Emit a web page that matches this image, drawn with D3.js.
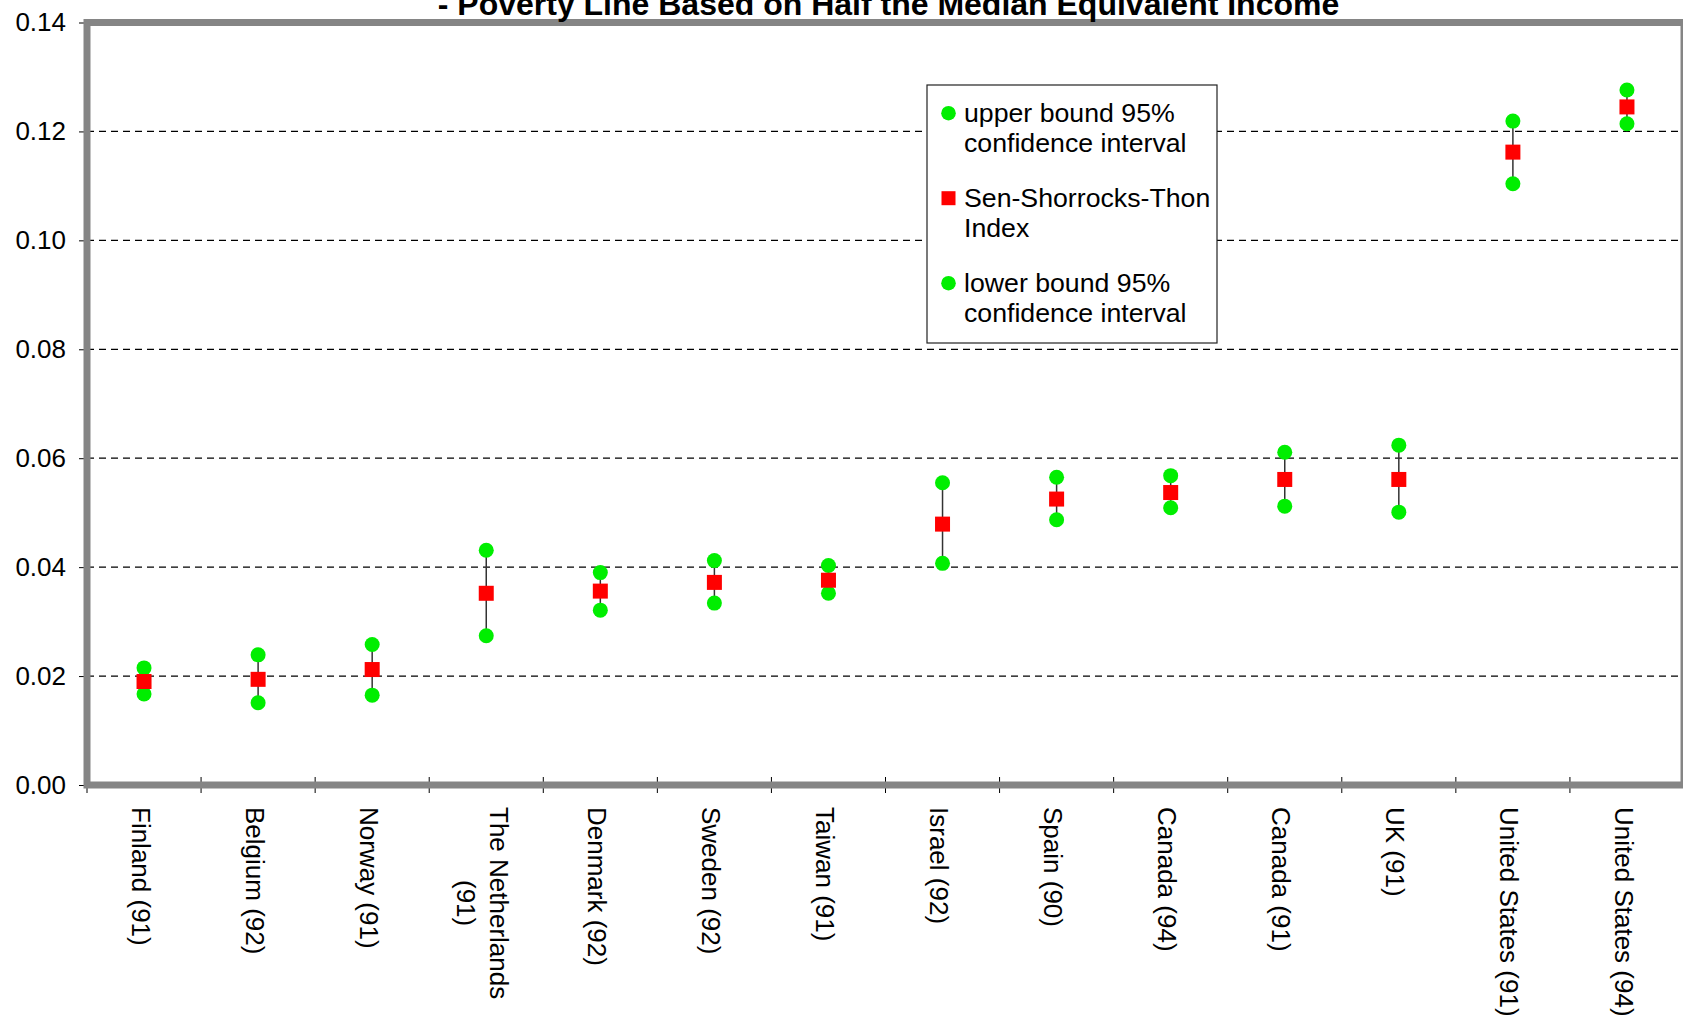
<!DOCTYPE html>
<html>
<head>
<meta charset="utf-8">
<script src="https://cdn.jsdelivr.net/npm/d3@7"></script>
<style>
  body { margin: 0; background: #fff; }
  text { font-family: Arial, "Liberation Sans", sans-serif; }
</style>
</head>
<body>
<script>
// chart data
var categories = ["Finland (91)", "Belgium (92)", "Norway (91)", "The Netherlands\n(91)", "Denmark (92)",
    "Sweden (92)", "Taiwan (91)", "Israel (92)", "Spain (90)", "Canada (94)", "Canada (91)", "UK (91)",
    "United States (91)", "United States (94)"];
var upperBound = [0.0215, 0.0239, 0.0258, 0.0431, 0.0390, 0.0412, 0.0403, 0.0555, 0.0565, 0.0568, 0.0611, 0.0624, 0.1219, 0.1276];
var sstIndex   = [0.0190, 0.0194, 0.0212, 0.0352, 0.0356, 0.0372, 0.0376, 0.0479, 0.0525, 0.0537, 0.0561, 0.0561, 0.1162, 0.1245];
var lowerBound = [0.0167, 0.0151, 0.0165, 0.0274, 0.0321, 0.0334, 0.0352, 0.0407, 0.0487, 0.0509, 0.0512, 0.0501, 0.1104, 0.1214];
var yTicks = [0, 0.02, 0.04, 0.06, 0.08, 0.10, 0.12, 0.14];
var legendLabels = [["upper bound 95%", "confidence interval"], ["Sen-Shorrocks-Thon", "Index"], ["lower bound 95%", "confidence interval"]];
var titleText = "- Poverty Line Based on Half the Median Equivalent Income";

var w = 1683, h = 1021;
var plotLeft = 87, plotRight = 1684, plotTop = 22.5, plotBottom = 785;

var svg = d3.select("body").append("svg")
    .attr("width", w)
    .attr("height", h);

var x = d3.scaleBand()
    .domain(categories)
    .range([plotLeft, plotRight]);

var y = d3.scaleLinear()
    .domain([0, 0.14])
    .range([plotBottom, plotTop]);

var rows = categories.map(function(c, i) {
    return { cat: c, up: upperBound[i], mid: sstIndex[i], low: lowerBound[i] };
});

// dashed gridlines
svg.append("g")
    .selectAll("line")
    .data(yTicks.filter(function(t) { return t > 0 && t < 0.14; }))
    .enter()
    .append("line")
    .attr("x1", plotLeft)
    .attr("x2", plotRight)
    .attr("y1", function(d) { return y(d); })
    .attr("y2", function(d) { return y(d); })
    .attr("stroke", "#000")
    .attr("stroke-width", 1.3)
    .attr("stroke-dasharray", "7,5");

// y axis
var yAxis = d3.axisLeft(y)
    .tickValues(yTicks)
    .tickFormat(d3.format(".2f"))
    .tickSizeInner(8)
    .tickSizeOuter(0)
    .tickPadding(13);

var gy = svg.append("g")
    .attr("transform", "translate(" + plotLeft + ",0)")
    .call(yAxis);
gy.select(".domain").remove();
gy.selectAll(".tick line").attr("stroke", "#000");
gy.selectAll(".tick text")
    .attr("font-size", 26)
    .attr("font-family", "Arial, 'Liberation Sans', sans-serif")
    .attr("fill", "#000");

// x tick marks at category boundaries (cross style)
var bounds = categories.map(function(c) { return x(c); }).concat([plotRight]);
svg.append("g")
    .selectAll("line")
    .data(bounds)
    .enter()
    .append("line")
    .attr("x1", function(d) { return d; })
    .attr("x2", function(d) { return d; })
    .attr("y1", plotBottom - 8)
    .attr("y2", plotBottom + 8)
    .attr("stroke", "#000")
    .attr("stroke-width", 1);

// plot area border
svg.append("rect")
    .attr("x", plotLeft)
    .attr("y", plotTop)
    .attr("width", plotRight - plotLeft)
    .attr("height", plotBottom - plotTop)
    .attr("fill", "none")
    .attr("stroke", "#858585")
    .attr("stroke-width", 7);

// x labels, rotated and wrapped
var labelTop = 807, lineStep = 33;
rows.forEach(function(r) {
    var lines = r.cat.split("\n");
    var g = svg.append("g")
        .attr("transform", "translate(" + (x(r.cat) + x.bandwidth() / 2) + "," + labelTop + ") rotate(90)");
    var texts = lines.map(function(l, i) {
        return g.append("text")
            .attr("y", 12.4 + (i - (lines.length - 1) / 2) * lineStep)
            .attr("font-size", 26)
            .attr("fill", "#000")
            .text(l);
    });
    var widths = texts.map(function(t) { return t.node().getComputedTextLength(); });
    var maxW = d3.max(widths);
    texts.forEach(function(t, i) { t.attr("x", (maxW - widths[i]) / 2); });
});

// error bars
svg.append("g")
    .selectAll("line")
    .data(rows)
    .enter()
    .append("line")
    .attr("x1", function(d) { return x(d.cat) + x.bandwidth() / 2; })
    .attr("x2", function(d) { return x(d.cat) + x.bandwidth() / 2; })
    .attr("y1", function(d) { return y(d.low); })
    .attr("y2", function(d) { return y(d.up); })
    .attr("stroke", "#333")
    .attr("stroke-width", 1.5);

var green = "#00ee00", red = "#ff0000";

["up", "low"].forEach(function(key) {
    svg.append("g")
        .selectAll("circle")
        .data(rows)
        .enter()
        .append("circle")
        .attr("cx", function(d) { return x(d.cat) + x.bandwidth() / 2; })
        .attr("cy", function(d) { return y(d[key]); })
        .attr("r", 7.5)
        .attr("fill", green);
});

svg.append("g")
    .selectAll("rect")
    .data(rows)
    .enter()
    .append("rect")
    .attr("x", function(d) { return x(d.cat) + x.bandwidth() / 2 - 7.5; })
    .attr("y", function(d) { return y(d.mid) - 7.5; })
    .attr("width", 15)
    .attr("height", 15)
    .attr("fill", red);

// legend
var legend = svg.append("g").attr("transform", "translate(927,85)");
legend.append("rect")
    .attr("width", 290)
    .attr("height", 258)
    .attr("fill", "#fff")
    .attr("stroke", "#222")
    .attr("stroke-width", 1.2);

legendLabels.forEach(function(lines, i) {
    var base = 36.7 + i * 85;
    if (i == 1) {
        legend.append("rect")
            .attr("x", 21.5 - 7)
            .attr("y", base - 8.5 - 7)
            .attr("width", 14)
            .attr("height", 14)
            .attr("fill", red);
    } else {
        legend.append("circle")
            .attr("cx", 21.5)
            .attr("cy", base - 8.5)
            .attr("r", 7.3)
            .attr("fill", green);
    }
    lines.forEach(function(l, j) {
        legend.append("text")
            .attr("x", 37)
            .attr("y", base + j * 30)
            .attr("font-size", 26.7)
            .attr("fill", "#000")
            .text(l);
    });
});

// title (top part is cut off in the original)
svg.append("text")
    .attr("x", (plotLeft + plotRight) / 2 + 3)
    .attr("y", 15)
    .attr("text-anchor", "middle")
    .attr("font-size", 32)
    .attr("font-weight", "bold")
    .attr("fill", "#000")
    .text(titleText);
</script>
</body>
</html>
